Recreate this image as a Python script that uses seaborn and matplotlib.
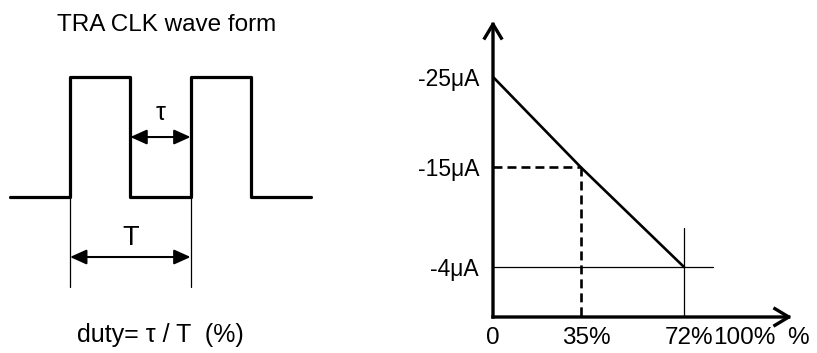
import numpy as np
import seaborn as sns
import matplotlib as mpl
mpl.use('Agg')
import matplotlib.pyplot as plt
from matplotlib.transforms import ScaledTranslation

# ---------------------------------------------------------
# data
# clock wave form (time in units of half a period, level 0/1)
wave_t = [-1, 0, 0, 1, 1, 2, 2, 3, 3, 4]
wave_v = [0, 0, 1, 1, 0, 0, 1, 1, 0, 0]
tau_span = [1, 2]      # low time
period_span = [0, 2]   # T

# duty vs current
duty_pct = [0, 35, 72]
current_uA = [-25, -15, -4]
x_tick_vals = [0, 35, 72, 100]
x_tick_labels = ['0', '35%', '72%', '100%']
y_tick_vals = [-25, -15, -4]
y_tick_labels = ['-25\u03bcA', '-15\u03bcA', '-4\u03bcA']

# ---------------------------------------------------------
sns.set_theme(style='white')
plt.rcParams['font.family'] = ['Liberation Sans', 'DejaVu Sans']
plt.rcParams['text.color'] = 'black'

fig = plt.figure(figsize=(8.17, 3.53), dpi=100)

# ---------------- left: wave form ----------------
ax_w = fig.add_axes([0, 0, 330 / 817, 1])
sns.lineplot(x=wave_t, y=wave_v, sort=False, estimator=None,
             color='black', lw=2.3, ax=ax_w)

# extension lines for T
for t in period_span:
    ax_w.plot([t, t], [0, -0.75], color='black', lw=0.9)

arr = dict(arrowstyle='<|-|>,head_length=1.0,head_width=0.45',
           mutation_scale=10, lw=1.5, color='black', shrinkA=0, shrinkB=0)
ax_w.annotate('', xy=(tau_span[0], 0.5), xytext=(tau_span[1], 0.5), arrowprops=arr)
ax_w.annotate('', xy=(period_span[0], -0.5), xytext=(period_span[1], -0.5), arrowprops=arr)

ax_w.text(np.mean(tau_span), 0.64, '\u03c4', fontsize=18, ha='center', va='baseline')
ax_w.text(np.mean(period_span), -0.40, 'T', fontsize=19.5, ha='center', va='baseline')
ax_w.text(1.6, 1.383, 'TRA CLK wave form', fontsize=17.5, ha='center', va='baseline')
ax_w.text(1.5, -1.208, 'duty= \u03c4 / T  (%)', fontsize=18, ha='center', va='baseline')

ax_w.set_xlim(-1.161, 4.312)
ax_w.set_ylim(-1.30, 1.642)
ax_w.axis('off')

# ---------------- right: current vs duty ----------------
ax = fig.add_axes([493 / 817, 36 / 353, 299 / 817, 296 / 353])

# the sketch is not to scale: piecewise stretch between the marked duties
kx = [0, 35, 72, 100]
ky = [0, 88, 191, 246]


def _pw(x, xs, ys):
    x = np.asarray(x, float)
    y = np.interp(x, xs, ys)
    y = np.where(x < xs[0], ys[0] + (x - xs[0]) * (ys[1] - ys[0]) / (xs[1] - xs[0]), y)
    y = np.where(x > xs[-1], ys[-1] + (x - xs[-1]) * (ys[-1] - ys[-2]) / (xs[-1] - xs[-2]), y)
    return y


ax.set_xscale('function', functions=(lambda x: _pw(x, kx, ky), lambda y: _pw(y, ky, kx)))

sns.lineplot(x=duty_pct, y=current_uA, color='black', lw=1.9, ax=ax)

ax.set_xlim(0, float(_pw(299, ky, kx)))
ax.set_ylim(1.525, -31.18)
y_bot = ax.get_ylim()[0]

# dashed guide to the 35% point
ax.hlines(current_uA[1], duty_pct[0], duty_pct[1], color='black', lw=1.9, ls=(0, (3.4, 1.9)))
ax.vlines(duty_pct[1], current_uA[1], y_bot, color='black', lw=1.9, ls=(0, (3.4, 1.9)))
# thin guides to the 72% point
ax.axhline(current_uA[2], xmin=0, xmax=0.736, color='black', lw=0.9)
ax.axvline(duty_pct[2], ymin=0, ymax=0.30, color='black', lw=0.9)

for s in ax.spines.values():
    s.set_visible(False)

ax.set_xticks(x_tick_vals, x_tick_labels)
ax.set_yticks(y_tick_vals, y_tick_labels)
ax.tick_params(axis='x', length=0, pad=7.5, labelsize=17.5, colors='black')
ax.tick_params(axis='y', length=0, pad=10, labelsize=16.5, colors='black')

# keep the number roughly centred on its guide, the % sign hangs to the right
shift = ScaledTranslation(5 / 100, 0, fig.dpi_scale_trans)
for tick, lab in zip(ax.xaxis.get_major_ticks(), x_tick_labels):
    if lab.endswith('%'):
        tick.label1.set_transform(tick.label1.get_transform() + shift)

ax.annotate('%', xy=(1, 0), xycoords='axes fraction', xytext=(4.3, -7.5),
            textcoords='offset points', fontsize=17.5, ha='center', va='top')

# axis arrows
ax_arr = dict(arrowstyle='->,head_length=0.5,head_width=0.3', mutation_scale=20,
              lw=2.4, color='black', shrinkA=0, shrinkB=0, capstyle='projecting')
ax.annotate('', xy=(0, 1), xytext=(0, 0), xycoords='axes fraction', arrowprops=ax_arr)
ax.annotate('', xy=(1, 0), xytext=(0, 0), xycoords='axes fraction', arrowprops=ax_arr)

ax.set_xlabel('')
ax.set_ylabel('')

fig.savefig('out.png', dpi=100)
